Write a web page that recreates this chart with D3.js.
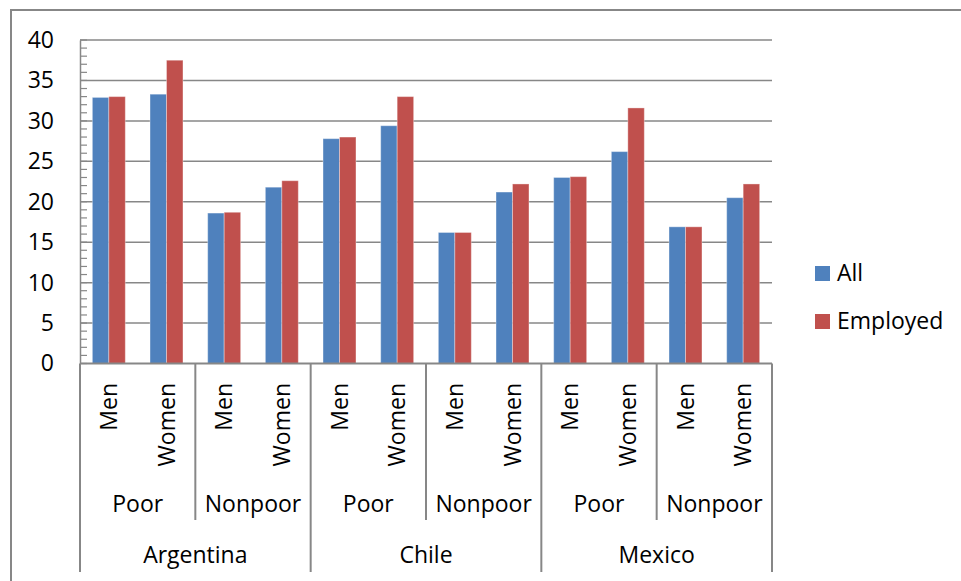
<!DOCTYPE html>
<html>
<head>
<meta charset="utf-8">
<script src="https://cdn.jsdelivr.net/npm/d3@7"></script>
<style>
  html, body { margin: 0; padding: 0; background: #fff; }
  svg { display: block; }
  text { font-family: "Open Sans", "Noto Sans", sans-serif; fill: #000; }
</style>
</head>
<body>
<svg id="chart" width="961" height="581"></svg>
<script>
// Categories, three levels: country > poverty status > sex
const countries = ["Argentina", "Chile", "Mexico"];
const groups = ["Poor", "Nonpoor"];
const sexes = ["Men", "Women"];

// Series values, one per leaf category, in order
// Argentina Poor M/W, Nonpoor M/W, Chile ..., Mexico ...
const seriesNames = ["All", "Employed"];
const allValues      = [32.9, 33.3, 18.6, 21.8, 27.8, 29.4, 16.2, 21.2, 23.0, 26.2, 16.9, 20.5];
const employedValues = [33.0, 37.5, 18.7, 22.6, 28.0, 33.0, 16.2, 22.2, 23.1, 31.6, 16.9, 22.2];

// Value axis ticks
const yTicks = [0, 5, 10, 15, 20, 25, 30, 35, 40];
const yMinorTicks = d3.range(0, 41, 1);

const colors = ["#4F81BD", "#C0504D"];
const gridColor = "#878787";

// Leaf categories built from the hierarchy
const leaves = [];
countries.forEach(c => groups.forEach(g => sexes.forEach(s => leaves.push({ country: c, group: g, sex: s, key: c + "|" + g + "|" + s }))));
leaves.forEach((d, i) => { d.values = [allValues[i], employedValues[i]]; });

const svg = d3.select("#chart");

// Chart frame
svg.append("rect")
  .attr("x", 11).attr("y", 10)
  .attr("width", 980).attr("height", 600)
  .attr("fill", "none").attr("stroke", gridColor).attr("stroke-width", 2);

const plot = { left: 80, right: 772, top: 40, bottom: 363.5 };

const x = d3.scaleBand()
  .domain(leaves.map(d => d.key))
  .range([plot.left, plot.right])
  .paddingInner(0).paddingOuter(0);

// Excel-style gap width of 150%
const bw = x.bandwidth();
const barW = bw / 3.5;
const xs = d3.scaleBand().domain(seriesNames).range([bw / 2 - barW, bw / 2 + barW]);

const y = d3.scaleLinear().domain([0, 40]).range([plot.bottom, plot.top]);

// Major gridlines
svg.append("g").selectAll("line").data(yTicks.filter(v => v > 0)).join("line")
  .attr("x1", plot.left).attr("x2", plot.right)
  .attr("y1", d => y(d)).attr("y2", d => y(d))
  .attr("stroke", gridColor).attr("stroke-width", 1.5);

// Bars
const cat = svg.append("g").selectAll("g").data(leaves).join("g")
  .attr("transform", d => `translate(${x(d.key)},0)`);
cat.selectAll("rect").data(d => d.values.map((v, i) => ({ v, i }))).join("rect")
  .attr("x", d => xs(seriesNames[d.i]))
  .attr("width", xs.bandwidth())
  .attr("y", d => y(d.v))
  .attr("height", d => y(0) - y(d.v))
  .attr("fill", d => colors[d.i])
  .attr("stroke", "rgba(255,255,255,0.35)")
  .attr("stroke-width", 1);

// Value axis
const yAxis = d3.axisLeft(y).tickValues(yTicks).tickSize(0).tickPadding(26);
const yg = svg.append("g").attr("transform", `translate(${plot.left},0)`).call(yAxis);
yg.select(".domain").attr("stroke", gridColor).attr("stroke-width", 1.5);
yg.selectAll("text").style("font-size", "23px").style("font-family", "'Open Sans', sans-serif").attr("fill", "#000");

// Minor tick marks on the value axis
svg.append("g").selectAll("line").data(yMinorTicks).join("line")
  .attr("x1", plot.left).attr("x2", plot.left + 7)
  .attr("y1", d => y(d)).attr("y2", d => y(d))
  .attr("stroke", gridColor).attr("stroke-width", 1.2);

// Category axis line
svg.append("line")
  .attr("x1", plot.left).attr("x2", plot.right)
  .attr("y1", y(0)).attr("y2", y(0))
  .attr("stroke", gridColor).attr("stroke-width", 2);

// Level 1 labels: sex, rotated
svg.append("g").selectAll("text").data(leaves).join("text")
  .attr("transform", d => `translate(${x(d.key) + bw / 2},383) rotate(-90)`)
  .attr("text-anchor", "end")
  .attr("dy", "0.36em")
  .style("font-size", "23px")
  .text(d => d.sex);

// Level 2 labels and separators: poverty status
const groupSpan = bw * sexes.length;
const groupCells = [];
countries.forEach((c, ci) => groups.forEach((g, gi) => groupCells.push({ c, g, x0: plot.left + (ci * groups.length + gi) * groupSpan })));
svg.append("g").selectAll("text").data(groupCells).join("text")
  .attr("x", d => d.x0 + groupSpan / 2)
  .attr("y", 512)
  .attr("text-anchor", "middle")
  .style("font-size", "23px")
  .text(d => d.g);
svg.append("g").selectAll("line").data(groupCells.filter((d, i) => i % groups.length !== 0)).join("line")
  .attr("x1", d => d.x0).attr("x2", d => d.x0)
  .attr("y1", y(0)).attr("y2", 520)
  .attr("stroke", gridColor).attr("stroke-width", 2);

// Level 3 labels and separators: country
const countrySpan = groupSpan * groups.length;
svg.append("g").selectAll("text").data(countries).join("text")
  .attr("x", (d, i) => plot.left + i * countrySpan + countrySpan / 2)
  .attr("y", 563)
  .attr("text-anchor", "middle")
  .style("font-size", "23px")
  .text(d => d);
svg.append("g").selectAll("line").data(d3.range(countries.length + 1)).join("line")
  .attr("x1", i => plot.left + i * countrySpan).attr("x2", i => plot.left + i * countrySpan)
  .attr("y1", y(0)).attr("y2", 572)
  .attr("stroke", gridColor).attr("stroke-width", 2);

// Legend
const legend = svg.append("g").selectAll("g").data(seriesNames).join("g")
  .attr("transform", (d, i) => `translate(815,${266 + i * 48})`);
legend.append("rect").attr("width", 15).attr("height", 15).attr("fill", (d, i) => colors[i]);
legend.append("text").attr("x", 22).attr("y", 14.5)
  .style("font-size", "23px")
  .text(d => d);
</script>
</body>
</html>
